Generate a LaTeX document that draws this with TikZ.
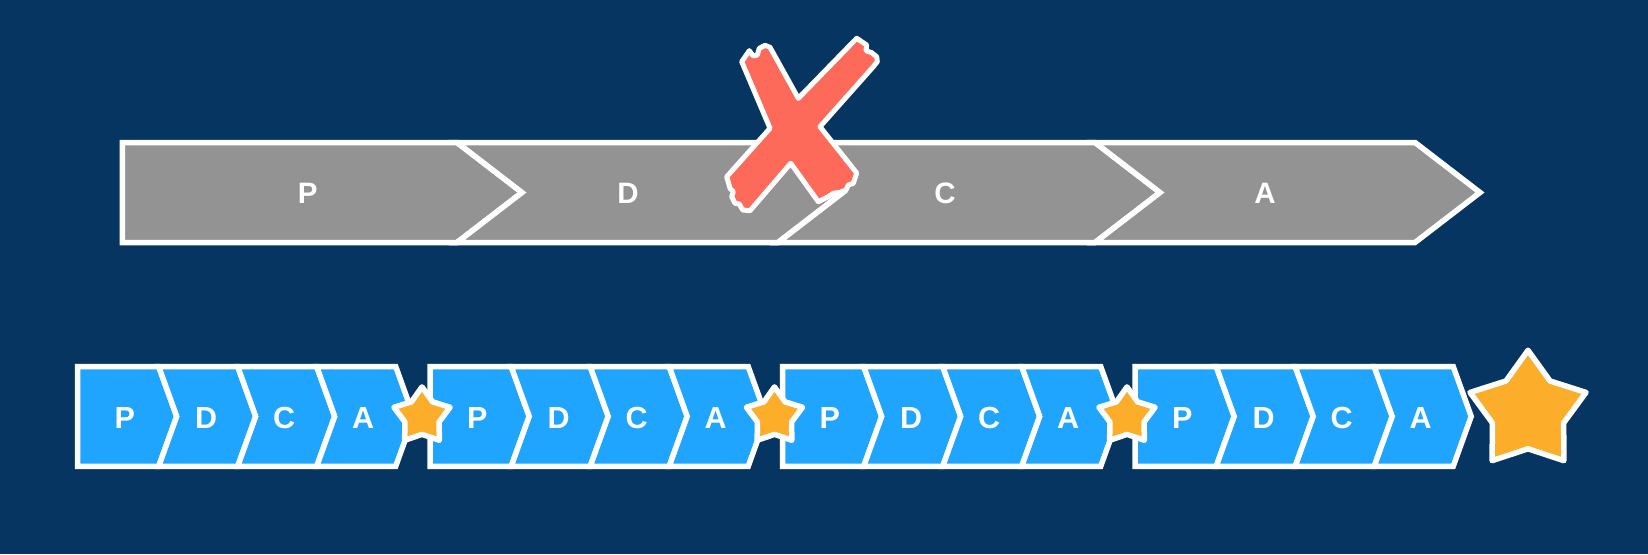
\documentclass[tikz,border=0pt]{standalone}
\usepackage{fontspec}
\setmainfont{Liberation Sans}
\definecolor{bgc}{RGB}{5,53,96}
\definecolor{greyc}{RGB}{147,147,147}
\definecolor{bluec}{RGB}{31,165,253}
\definecolor{orangec}{RGB}{252,174,43}
\definecolor{redc}{RGB}{254,106,89}
\newcommand{\mystar}[5]{%
  \draw[#1, shift={(#2,#3)}] (-90:#4) -- (-54:#5) -- (-18:#4) -- (18:#5) -- (54:#4) -- (90:#5) -- (126:#4) -- (162:#5) -- (198:#4) -- (234:#5) -- cycle;}
\begin{document}
\begin{tikzpicture}[x=1pt,y=-1pt,
  chevg/.style={fill=greyc, draw=white, line width=5.5pt},
  chevb/.style={fill=bluec, draw=white, line width=5.5pt},
  lbltop/.style={text=white, font=\bfseries\fontsize{29.5}{31}\selectfont, inner sep=0pt},
  lblbot/.style={text=white, font=\bfseries\fontsize{30.5}{32}\selectfont, inner sep=0pt},
  starc/.style={fill=orangec, draw=white, line width=5.5pt, line join=round},
  xmark/.style={fill=redc, draw=white, line width=5pt, line join=round}]
\useasboundingbox (0,0) rectangle (1648,554);
\fill[bgc] (0,0) rectangle (1648,554);
% ---- top strip ----
\def\T{142.5}\def\B{242.5}\def\M{192.5}
\draw[chevg] (122.3,\T) -- (457,\T) -- (522,\M) -- (457,\B) -- (122.3,\B) -- cycle;
\draw[chevg] (457,\T) -- (778,\T) -- (843,\M) -- (778,\B) -- (457,\B) -- (522,\M) -- cycle;
\draw[chevg] (778,\T) -- (1095,\T) -- (1160,\M) -- (1095,\B) -- (778,\B) -- (843,\M) -- cycle;
\draw[chevg] (1095,\T) -- (1415,\T) -- (1480,\M) -- (1415,\B) -- (1095,\B) -- (1160,\M) -- cycle;
\node[lbltop] (tp) at (307.7,193) {P};
\node[lbltop] (td) at (628,193) {D};
\node[lbltop] (tc) at (945,193) {C};
\node[lbltop] (ta) at (1265,193) {A};
% ---- red X ----
\draw[xmark] (770,128.3) -- (741.7,61.7) -- (749.3,50.7) -- (753.3,56) -- (757.3,55) -- (759.3,48.3) -- (765,45.3) -- (770,47.3)
  -- (798.3,98.3) -- (856.7,38.3) -- (866.7,45) -- (866,50.7) -- (871.7,52.7) -- (876.7,56.7) -- (877.3,61.7) -- (873.3,66.7)
  -- (820,126.7) -- (856.7,173) -- (853.3,183.3) -- (848.3,185) -- (846,190) -- (840,192.3) -- (833.3,193.3) -- (828.3,196.7) -- (821.7,200) -- (818.3,201.7)
  -- (790.7,163.3) -- (750,210.7) -- (742.7,210) -- (739.3,204) -- (735,203.3) -- (731.7,196.7) -- (733.3,191.7) -- (730,188.3) -- (726.7,176.7)
  -- cycle;
% ---- bottom strips ----
\def\bT{366.5}\def\bB{466.3}\def\bM{416.4}
\foreach \g in {0,1,2,3}{
  \pgfmathsetmacro{\L}{77.7+352.5*\g}
  \pgfmathsetmacro{\ca}{\L+81}
  \pgfmathsetmacro{\cb}{\L+160}
  \pgfmathsetmacro{\cc}{\L+239}
  \pgfmathsetmacro{\cd}{\L+318}
  \draw[chevb] (\L,\bT) -- (\ca,\bT) -- (\ca+18,\bM) -- (\ca,\bB) -- (\L,\bB) -- cycle;
  \draw[chevb] (\ca,\bT) -- (\cb,\bT) -- (\cb+18,\bM) -- (\cb,\bB) -- (\ca,\bB) -- (\ca+18,\bM) -- cycle;
  \draw[chevb] (\cb,\bT) -- (\cc,\bT) -- (\cc+18,\bM) -- (\cc,\bB) -- (\cb,\bB) -- (\cb+18,\bM) -- cycle;
  \draw[chevb] (\cc,\bT) -- (\cd,\bT) -- (\cd+18,\bM) -- (\cd,\bB) -- (\cc,\bB) -- (\cc+18,\bM) -- cycle;
  \node[lblbot] (p\g) at (\L+47,418) {P};
  \node[lblbot] (d\g) at (\L+128.5,418) {D};
  \node[lblbot] (c\g) at (\L+206.5,418) {C};
  \node[lblbot] (a\g) at (\L+285.5,418) {A};
}
% ---- stars ----
\mystar{starc}{422}{416.4}{29.5}{18}
\mystar{starc}{774.5}{416.4}{29.5}{18}
\mystar{starc}{1127}{416.4}{29.5}{18}
\mystar{starc}{1528}{411.3}{61}{37.5}
\end{tikzpicture}
\end{document}
